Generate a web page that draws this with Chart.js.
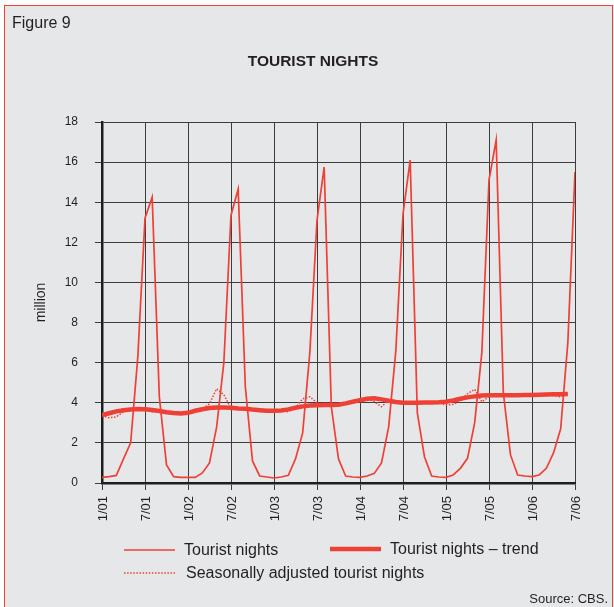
<!DOCTYPE html>
<html>
<head>
<meta charset="utf-8">
<script src="https://cdn.jsdelivr.net/npm/chart.js@4.4.0/dist/chart.umd.min.js"></script>
<style>
  html, body { margin: 0; padding: 0; background: #fff; }
  #c { display: block; }
</style>
</head>
<body>
<canvas id="c" width="614" height="607"></canvas>
<script>
// tick labels every 6 months, Jan 2001 .. Jul 2006
const tickLabels = ['1/01', '7/01', '1/02', '7/02', '1/03', '7/03', '1/04', '7/04', '1/05', '7/05', '1/06', '7/06'];

// monthly values (million), Jan 2001 .. Jul 2006
const touristNights = [
  0.28, 0.32, 0.38, 1.2, 2.0, 6.3, 13.2, 14.25, 4.3, 0.9, 0.32, 0.28,
  0.28, 0.28, 0.5, 1.0, 2.8, 6.0, 13.35, 14.65, 4.8, 1.1, 0.35, 0.3,
  0.25, 0.3, 0.38, 1.2, 2.5, 6.5, 13.1, 15.75, 3.8, 1.2, 0.35, 0.3,
  0.28, 0.35, 0.48, 1.0, 2.8, 6.6, 13.4, 16.1, 3.5, 1.3, 0.35, 0.3,
  0.28, 0.4, 0.73, 1.23, 3.0, 6.5, 15.1, 17.1, 4.5, 1.4, 0.4, 0.35,
  0.32, 0.4, 0.73, 1.5, 2.7, 7.0, 15.5
];

// trend, Jan 2001 .. Jun 2006
const trendNights = [
  3.39, 3.48, 3.57, 3.63, 3.67, 3.69, 3.68, 3.64, 3.59, 3.53, 3.49, 3.47,
  3.5, 3.6, 3.68, 3.74, 3.77, 3.77, 3.75, 3.72, 3.7, 3.66, 3.63, 3.6,
  3.6, 3.62, 3.67, 3.75, 3.82, 3.86, 3.88, 3.89, 3.89, 3.9, 3.97, 4.05,
  4.13, 4.2, 4.22, 4.17, 4.1, 4.04, 4.0, 4.0, 4.0, 4.01, 4.02, 4.03,
  4.05, 4.12, 4.2, 4.27, 4.32, 4.36, 4.38, 4.38, 4.38, 4.38, 4.38, 4.39,
  4.39, 4.4, 4.41, 4.42, 4.43, 4.44
];

// seasonally adjusted, Jan 2001 .. Jun 2006
const adjustedNights = [
  3.35, 3.25, 3.3, 3.55, 3.7, 3.72, 3.7, 3.55, 3.6, 3.55, 3.52, 3.44,
  3.48, 3.62, 3.7, 3.95, 4.7, 4.4, 3.72, 3.7, 3.72, 3.65, 3.62, 3.55,
  3.58, 3.62, 3.55, 3.75, 4.2, 4.3, 4.0, 3.87, 3.9, 3.9, 3.97, 4.05,
  4.12, 4.2, 4.05, 3.8, 4.12, 4.05, 4.0, 4.02, 3.98, 4.02, 4.03, 4.0,
  3.88, 3.92, 4.1, 4.45, 4.67, 4.05, 4.3, 4.38, 4.36, 4.4, 4.38, 4.36,
  4.4, 4.38, 4.42, 4.35, 4.3, 4.45
];

const RED = '#ef4036';
const FONT = "'Liberation Sans', Arial, sans-serif";

const toPoints = arr => arr.map((v, i) => ({ x: i, y: v }));

// frame, header texts, legend and source
const decor = {
    id: 'decor',
    beforeDraw(chart) {
        const ctx = chart.ctx;
        ctx.save();
        ctx.fillStyle = '#ffffff';
        ctx.fillRect(0, 0, 614, 607);
        ctx.fillStyle = '#e6e7e9';
        ctx.fillRect(4, 5, 614, 607);
        ctx.strokeStyle = RED;
        ctx.lineWidth = 1;
        ctx.strokeRect(4.5, 5.5, 608, 610);
        ctx.restore();
    },
    afterDraw(chart) {
        const ctx = chart.ctx;
        ctx.save();
        ctx.fillStyle = '#231f20';
        ctx.textBaseline = 'middle';

        ctx.font = '16px ' + FONT;
        ctx.textAlign = 'left';
        ctx.fillText('Figure 9', 12, 24);

        ctx.font = 'bold 15.5px ' + FONT;
        ctx.textAlign = 'center';
        ctx.fillText('TOURIST NIGHTS', 313, 62);

        // legend
        ctx.strokeStyle = RED;
        ctx.lineWidth = 1.5;
        ctx.beginPath(); ctx.moveTo(124, 550); ctx.lineTo(175, 550); ctx.stroke();
        ctx.lineWidth = 4.5;
        ctx.beginPath(); ctx.moveTo(330, 549); ctx.lineTo(381, 549); ctx.stroke();
        ctx.lineWidth = 1.5;
        ctx.setLineDash([1.5, 1.6]);
        ctx.beginPath(); ctx.moveTo(124, 573); ctx.lineTo(175, 573); ctx.stroke();
        ctx.setLineDash([]);

        ctx.font = '16px ' + FONT;
        ctx.textAlign = 'left';
        ctx.fillText('Tourist nights', 184, 551);
        ctx.fillText('Tourist nights \u2013 trend', 390, 550);
        ctx.fillText('Seasonally adjusted tourist nights', 186, 574);

        ctx.font = '13px ' + FONT;
        ctx.textAlign = 'right';
        ctx.fillText('Source: CBS.', 608, 599);
        ctx.restore();
    }
};

new Chart(document.getElementById('c'), {
    type: 'line',
    data: {
        datasets: [
            {
                label: 'Seasonally adjusted tourist nights',
                data: toPoints(adjustedNights),
                borderColor: RED,
                borderWidth: 1.5,
                borderDash: [1.5, 1.6],
                pointRadius: 0,
                order: 0
            },
            {
                label: 'Tourist nights',
                data: toPoints(touristNights),
                borderColor: RED,
                borderWidth: 1.7,
                pointRadius: 0,
                order: 1
            },
            {
                label: 'Tourist nights \u2013 trend',
                data: toPoints(trendNights),
                borderColor: RED,
                borderWidth: 4.5,
                pointRadius: 0,
                order: 2
            }
        ]
    },
    options: {
        responsive: false,
        animation: false,
        devicePixelRatio: 1,
        layout: { padding: { left: 0, right: 39, top: 122, bottom: 0 } },
        plugins: {
            legend: { display: false },
            title: { display: false },
            tooltip: { enabled: false }
        },
        scales: {
            x: {
                type: 'linear',
                min: 0,
                max: 66,
                afterFit(scale) { scale.height = 124; },
                afterBuildTicks(scale) {
                    scale.ticks = tickLabels.map((t, i) => ({ value: i * 6 }));
                },
                ticks: {
                    stepSize: 6,
                    autoSkip: false,
                    minRotation: 90,
                    maxRotation: 90,
                    padding: 6,
                    labelOffset: 1.5,
                    color: '#231f20',
                    font: { family: FONT, size: 13 },
                    callback: v => tickLabels[v / 6]
                },
                grid: { color: '#3c3c3c', lineWidth: 1, tickLength: 7 },
                border: { color: '#1e1e1e', width: 2.5 }
            },
            y: {
                min: 0,
                max: 18,
                afterFit(scale) { scale.width = 102; },
                ticks: {
                    stepSize: 2,
                    padding: 17,
                    color: '#231f20',
                    font: { family: FONT, size: 12 }
                },
                title: {
                    display: true,
                    text: 'million',
                    color: '#231f20',
                    font: { family: FONT, size: 14 },
                    padding: { top: 33, bottom: 0 }
                },
                grid: { color: '#3c3c3c', lineWidth: 1, tickLength: 7 },
                border: { color: '#1e1e1e', width: 2.5 }
            }
        }
    },
    plugins: [decor]
});
</script>
</body>
</html>
